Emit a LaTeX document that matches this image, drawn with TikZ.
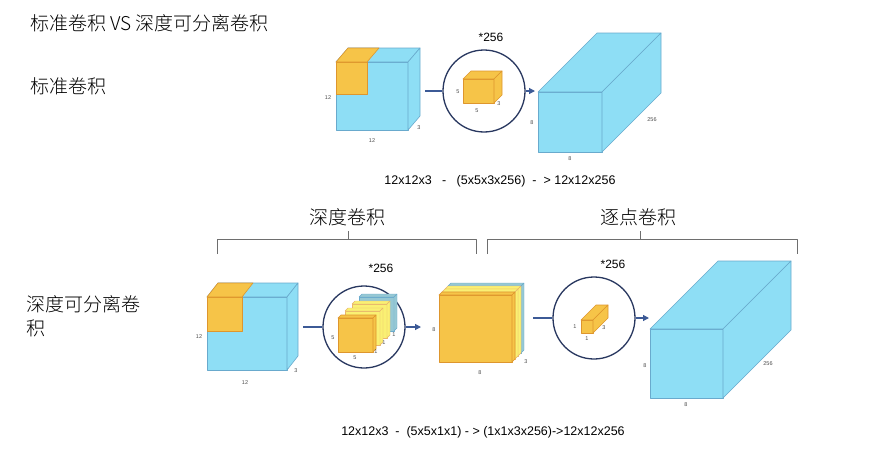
\documentclass[tikz,border=0pt]{standalone}
\usepackage{fontspec}
\setmainfont{Liberation Sans}
\newfontfamily\cjk{Noto Sans CJK SC Light}
\usetikzlibrary{arrows.meta}
\definecolor{cubeblue}{RGB}{142,222,245}
\definecolor{cubeedge}{RGB}{105,170,205}
\definecolor{kernorange}{RGB}{246,196,72}
\definecolor{kernedge}{RGB}{222,150,45}
\definecolor{slabyellow}{RGB}{250,240,115}
\definecolor{slabteal}{RGB}{150,200,212}
\definecolor{ringnavy}{RGB}{40,55,95}
\definecolor{flowblue}{RGB}{60,90,150}
\definecolor{bracketgray}{RGB}{110,110,110}

% cuboid: front x1,y1,x2,y2, depth dx,dy, style
\newcommand\cuboid[7]{%
 \filldraw[#7] (#1,#2) rectangle (#3,#4);
 \filldraw[#7] (#1,#2) -- ++(#5,#6) -- ({#3+#5},{#2+#6}) -- (#3,#2) -- cycle;
 \filldraw[#7] (#3,#2) -- ++(#5,#6) -- ({#3+#5},{#4+#6}) -- (#3,#4) -- cycle;}
% kernel patch on a cube: front and top only
\newcommand\patch[7]{%
 \filldraw[#7] (#1,#2) rectangle (#3,#4);
 \filldraw[#7] (#1,#2) -- ++(#5,#6) -- ({#3+#5},{#2+#6}) -- (#3,#2) -- cycle;}

\begin{document}
\begin{tikzpicture}[x=1pt,y=-1pt,line join=round,
  blueface/.style={fill=cubeblue,draw=cubeedge,line width=0.6pt},
  orangeface/.style={fill=kernorange,draw=kernedge,line width=0.6pt},
  yellowface/.style={fill=slabyellow,draw=kernedge!70,line width=0.4pt},
  tealface/.style={fill=slabteal,draw=cubeedge,line width=0.4pt},
  ring/.style={circle,draw=ringnavy,line width=1.3pt,minimum size=82pt,inner sep=0pt},
  flow/.style={draw=flowblue,line width=1.2pt},
  flowarrow/.style={flow,-{Triangle[length=6pt,width=6pt]}},
  dim/.style={font=\fontsize{5.5}{6}\selectfont,text=black!70,inner sep=0.5pt},
  times/.style={font=\fontsize{12}{14}\selectfont,inner sep=0pt},
  formula/.style={font=\fontsize{12.5}{15}\selectfont,inner sep=0pt},
  heading/.style={font=\cjk\fontsize{19}{24}\selectfont,inner sep=0pt,anchor=west},
  brace/.style={draw=bracketgray,line width=0.8pt}]
\useasboundingbox (0,0) rectangle (879,455);

% titles
\node[heading] (title) at (30,23) {标准卷积 VS 深度可分离卷积};
\node[heading] (stdlabel) at (30,86) {标准卷积};
\node[heading,align=left,anchor=north west] (sepLabel) at (26,295) {深度可分离卷\\积};

% ---- standard convolution ----
\cuboid{336}{62}{408}{130}{12}{-14}{blueface}
\patch{336}{62}{367}{94}{12}{-14}{orangeface}
\node[dim] (inA12) at (328,98) {12};
\node[dim] (inB12) at (372,141) {12};
\node[dim] (inC3) at (419,128) {3};

\node[ring] (ringStd) at (484,91) {};
\node[times] (timesStd) at (491,37) {*256};
\cuboid{463}{79}{494}{103}{8}{-8}{orangeface}
\node[dim] (kA5) at (458,92) {5};
\node[dim] (kB5) at (477,111) {5};
\node[dim] (kC3) at (499,104) {3};
\coordinate (stdIn) at (425,91);
\coordinate (stdOut) at (535,91);
\draw[flow] (stdIn) -- (ringStd.west);
\draw[flowarrow] (ringStd.east) -- (stdOut);

\cuboid{538}{92}{602}{152}{59}{-59}{blueface}
\node[dim] (outA8) at (532,123) {8};
\node[dim] (outB8) at (570,159) {8};
\node[dim] (outC256) at (652,120) {256};

\node[formula] (fStd) at (500,181) {12x12x3 \ \ - \ \ (5x5x3x256) \ - \ > 12x12x256};

% ---- depthwise separable ----
\node[font=\cjk\fontsize{19}{24}\selectfont] (dwTitle) at (347,217) {深度卷积};
\node[font=\cjk\fontsize{19}{24}\selectfont] (pwTitle) at (638,217) {逐点卷积};
\draw[brace] (217,254) -- (217,239) -- (476,239) -- (476,254);
\draw[brace] (348,239) -- (348,231);
\draw[brace] (487,254) -- (487,239) -- (797,239) -- (797,254);
\draw[brace] (640,239) -- (640,231);

\cuboid{207}{297}{287}{370}{11}{-14}{blueface}
\patch{207}{297}{242}{331}{11}{-14}{orangeface}
\node[dim] (dinA12) at (199,337) {12};
\node[dim] (dinB12) at (245,383) {12};
\node[dim] (dinC3) at (296,371) {3};

\node[ring] (ringDw) at (364,327) {};
\node[times] (timesDw) at (381,268) {*256};
\cuboid{359}{297}{394}{331}{3}{-3}{tealface}
\cuboid{352}{304}{387}{338}{3}{-3}{yellowface}
\cuboid{345}{311}{380}{345}{3}{-3}{yellowface}
\cuboid{338}{318}{373}{352}{3}{-3}{orangeface}
\node[dim] (dkA5) at (333,338) {5};
\node[dim] (dkB5) at (355,358) {5};
\node[dim] (dk1a) at (376,352) {1};
\node[dim] (dk1b) at (384,343) {1};
\node[dim] (dk1c) at (394,335) {1};
\coordinate (dwIn) at (303,327);
\coordinate (dwOut) at (421,327);
\draw[flow] (dwIn) -- (ringDw.west);
\draw[flowarrow] (ringDw.east) -- (dwOut);

\cuboid{448}{286}{521}{353}{3}{-3}{tealface}
\cuboid{445}{289}{518}{356}{3}{-3}{yellowface}
\cuboid{442}{292}{515}{359}{3}{-3}{yellowface}
\cuboid{439}{295}{512}{362}{3}{-3}{orangeface}
\node[dim] (midA8) at (434,330) {8};
\node[dim] (midB8) at (480,373) {8};
\node[dim] (midC3) at (526,362) {3};

\node[ring] (ringPw) at (594,318) {};
\node[times] (timesPw) at (613,264) {*256};
\cuboid{581}{320}{593}{333}{15}{-15}{orangeface}
\node[dim] (pkA1) at (575,327) {1};
\node[dim] (pkB1) at (587,339) {1};
\node[dim] (pkC3) at (604,328) {3};
\coordinate (pwIn) at (533,318);
\coordinate (pwOut) at (649,318);
\draw[flow] (pwIn) -- (ringPw.west);
\draw[flowarrow] (ringPw.east) -- (pwOut);

\cuboid{650}{329}{723}{398}{68}{-68}{blueface}
\node[dim] (poutA8) at (645,366) {8};
\node[dim] (poutB8) at (686,405) {8};
\node[dim] (poutC256) at (768,364) {256};

\node[formula] (fSep) at (483,432) {12x12x3 \ - \ (5x5x1x1) - > (1x1x3x256)->12x12x256};
\end{tikzpicture}
\end{document}
